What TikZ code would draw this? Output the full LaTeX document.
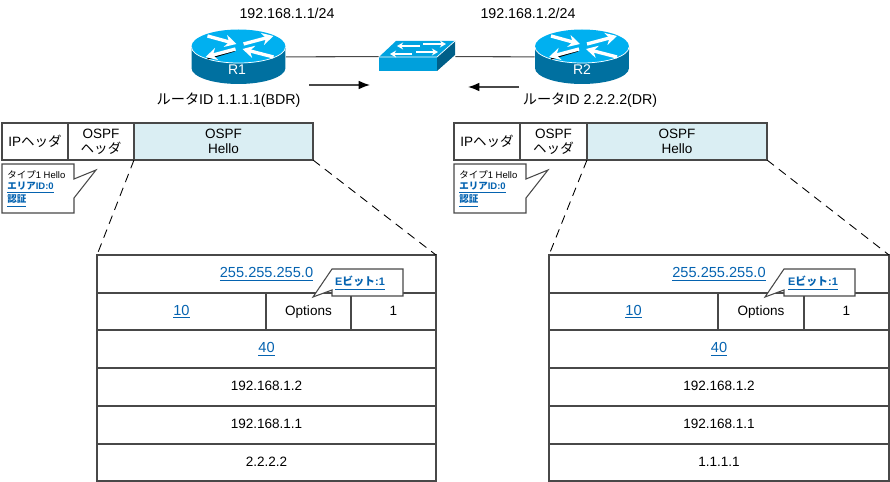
\documentclass[tikz,border=0pt]{standalone}
\usepackage{fontspec}
\setmainfont{Liberation Sans}
\newfontfamily\jp{Noto Sans CJK JP}
\usetikzlibrary{arrows.meta}
\definecolor{linegray}{HTML}{484848}
\definecolor{linkblue}{HTML}{0563B0}
\definecolor{hellofill}{HTML}{DAEEF3}
\definecolor{routertop}{HTML}{00B0F0}
\definecolor{routerside}{HTML}{0070A0}
\def\pxu{0.02cm}
\def\lnk#1{\textcolor{linkblue}{\underline{#1}}}
\tikzset{
	cell/.style 2 args={draw=linegray, line width=0.65pt, anchor=north west, inner sep=0pt, outer sep=0pt, align=center, minimum width=#1*\pxu, minimum height=#2*\pxu, font=\fontsize{7.7}{8.6}\selectfont},
	rowtext/.style={text height=6pt, text depth=1.9pt},
	linktext/.style={rowtext, font=\fontsize{8.3}{9}\selectfont},
	wire/.style={draw=linegray, line width=0.6pt},
	flowarrow/.style={draw=linegray, line width=0.8pt, -{Latex[black,length=6.5pt,width=5pt]}},
	zoomline/.style={draw=black, line width=0.5pt, dash pattern=on 5pt off 3.5pt},
	note/.style={draw=linegray, fill=white, line width=0.6pt},
	rtrarrow/.style={white, line width=1.9pt, -{Stealth[length=6.5pt,width=7pt]}},
	rtrshade/.style={black, line width=0.7pt},
	swarrow/.style={white, line width=1.3pt},
	iplabel/.style={font=\fontsize{8.1}{9}\selectfont},
	idlabel/.style={font=\fontsize{8.1}{9}\selectfont},
	smalltext/.style={anchor=west, inner sep=0pt, font=\fontsize{5.4}{6}\selectfont},
	smalllink/.style={smalltext, font=\fontsize{5.4}{6}\selectfont\bfseries},
	ebittext/.style={font=\fontsize{6.2}{7}\selectfont\bfseries},
}
% router drawn around the centre of its top face
\def\routericon(#1,#2){
	\fill[routerside] (#1-47,#2) -- (#1-47,#2+21) arc (180:360:0.94cm and 0.32cm) -- (#1+47,#2) -- cycle;
	\fill[routertop] (#1,#2-0.5) ellipse (0.94cm and 0.34cm);
	\draw[white, line width=0.4pt] (#1-47,#2) arc (180:360:0.94cm and 0.32cm);
	\draw[rtrshade] (#1-31,#2+12) -- (#1-4,#2+4);
	\draw[rtrshade] (#1+5,#2-3) -- (#1+26,#2-9);
	\draw[rtrarrow] (#1-31,#2-11) -- (#1-2,#2-3);
	\draw[rtrarrow] (#1+5,#2-3) -- (#1+35,#2-11);
	\draw[rtrarrow] (#1-3,#2+2) -- (#1-33,#2+10);
	\draw[rtrarrow] (#1+35,#2+10) -- (#1+4,#2+2);
}
\begin{document}
\begin{tikzpicture}[x=\pxu, y=-\pxu]
	\useasboundingbox (0,0) rectangle (890,482);
	%%%%% TOP %%%%%
	\node[minimum width=94*\pxu, minimum height=54*\pxu, inner sep=0pt] (r1) at (238.5,57) {};
	\node[minimum width=76*\pxu, minimum height=30*\pxu, inner sep=0pt] (sw) at (417,56.5) {};
	\node[minimum width=94*\pxu, minimum height=54*\pxu, inner sep=0pt] (r2) at (582,57) {};
	\draw[wire] (r1) -- (sw);
	\draw[wire] (sw) -- (r2);
	
	\routericon(238.5,47)
	\routericon(582,47)
	\node[white, font=\fontsize{8}{9}\selectfont] (r1name) at (237,70) {R1};
	\node[white, font=\fontsize{8}{9}\selectfont] (r2name) at (582,70) {R2};
	
	\fill[routerside!85!black] (437,57) -- (455,41) -- (455,55) -- (437,71) -- cycle;
	\fill[routertop!80!routerside] (379,57) -- (396,41) -- (455,41) -- (437,57) -- cycle;
	\fill[routertop!75!routerside] (379,57) rectangle (437,71);
	\draw[white, line width=0.4pt] (379,57) -- (437,57) -- (455,41);
	\draw[swarrow, {Stealth[length=3.5pt,width=4pt]}-] (390,54) -- (412,54);
	\draw[swarrow, -{Stealth[length=3.5pt,width=4pt]}] (416,52) -- (438,52);
	\draw[swarrow, {Stealth[length=3.5pt,width=4pt]}-] (397,46) -- (420,46);
	\draw[swarrow, -{Stealth[length=3.5pt,width=4pt]}] (423,44) -- (446,44);
	
	\node[iplabel] (ip1) at (287,13) {192.168.1.1/24};
	\node[iplabel] (ip2) at (528,13) {192.168.1.2/24};
	\node[idlabel] (id1) at (228.5,100) {{\jp ルータ}ID 1.1.1.1(BDR)};
	\node[idlabel] (id2) at (590,100) {{\jp ルータ}ID 2.2.2.2(DR)};
	
	\coordinate (a1s) at (309,85);
	\coordinate (a1e) at (370,85);
	\coordinate (a2s) at (519,87);
	\coordinate (a2e) at (468,87);
	\draw[flowarrow] (a1s) -- (a1e);
	\draw[flowarrow] (a2s) -- (a2e);
	
	%%%%% LEFT %%%%%
	\node[cell={66}{37}] (ipa) at (2,123) {IP{\jp ヘッダ}};
	\node[cell={66}{37}] (ospfa) at (68,123) {OSPF\\{\jp ヘッダ}};
	\node[cell={179}{37}, fill=hellofill] (helloa) at (134,123) {OSPF\\Hello};
	
	\node[cell={339}{38}, linktext] (maska) at (97,255) {\lnk{255.255.255.0}};
	\node[cell={169}{37}, linktext] (inta) at (97,293) {\lnk{10}};
	\node[cell={85}{37}, rowtext] (opta) at (266,293) {Options};
	\node[cell={85}{37}, rowtext] (pria) at (351,293) {1};
	\node[cell={339}{38}, linktext] (deada) at (97,330) {\lnk{40}};
	\node[cell={339}{38}, rowtext] (dra) at (97,368) {192.168.1.2};
	\node[cell={339}{38}, rowtext] (bdra) at (97,406) {192.168.1.1};
	\node[cell={339}{37}, rowtext] (nbra) at (97,444) {2.2.2.2};
	\draw[zoomline] (helloa.south west) -- (maska.north west);
	\draw[zoomline] (helloa.south east) -- (maska.north east);
	
	\draw[note] (2,164) -- (74,164) -- (74,179) -- (96,170) -- (74,198) -- (74,213) -- (2,213) -- cycle;
	\node[smalltext] (typea) at (7,175) {{\jp タイプ}1 Hello};
	\node[smalllink] (areaa) at (7,188) {\lnk{{\jp エリア}ID:0}};
	\node[smalllink] (autha) at (7,201) {\lnk{{\jp 認証}}};
	
	\draw[note] (332,269) -- (403,269) -- (403,296) -- (332,296) -- (332,290) -- (313,297) -- cycle;
	\node[ebittext] (ebita) at (360,283) {\lnk{E{\jp ビット}:1}};
	
	%%%%% RIGHT %%%%%
	\node[cell={66}{37}] (ipb) at (454,123) {IP{\jp ヘッダ}};
	\node[cell={67}{37}] (ospfb) at (520,123) {OSPF\\{\jp ヘッダ}};
	\node[cell={180}{37}, fill=hellofill] (hellob) at (587,123) {OSPF\\Hello};
	
	\node[cell={340}{38}, linktext] (maskb) at (549,255) {\lnk{255.255.255.0}};
	\node[cell={169}{37}, linktext] (intb) at (549,293) {\lnk{10}};
	\node[cell={86}{37}, rowtext] (optb) at (718,293) {Options};
	\node[cell={85}{37}, rowtext] (prib) at (804,293) {1};
	\node[cell={340}{38}, linktext] (deadb) at (549,330) {\lnk{40}};
	\node[cell={340}{38}, rowtext] (drb) at (549,368) {192.168.1.2};
	\node[cell={340}{38}, rowtext] (bdrb) at (549,406) {192.168.1.1};
	\node[cell={340}{37}, rowtext] (nbrb) at (549,444) {1.1.1.1};
	\draw[zoomline] (hellob.south west) -- (maskb.north west);
	\draw[zoomline] (hellob.south east) -- (maskb.north east);
	
	\draw[note] (454,164) -- (526,164) -- (526,179) -- (548,170) -- (526,198) -- (526,213) -- (454,213) -- cycle;
	\node[smalltext] (typeb) at (459,175) {{\jp タイプ}1 Hello};
	\node[smalllink] (areab) at (459,188) {\lnk{{\jp エリア}ID:0}};
	\node[smalllink] (authb) at (459,201) {\lnk{{\jp 認証}}};
	
	\draw[note] (784,269) -- (855,269) -- (855,296) -- (784,296) -- (784,290) -- (765,297) -- cycle;
	\node[ebittext] (ebitb) at (813,283) {\lnk{E{\jp ビット}:1}};
	%%%%% END %%%%%
\end{tikzpicture}
\end{document}
